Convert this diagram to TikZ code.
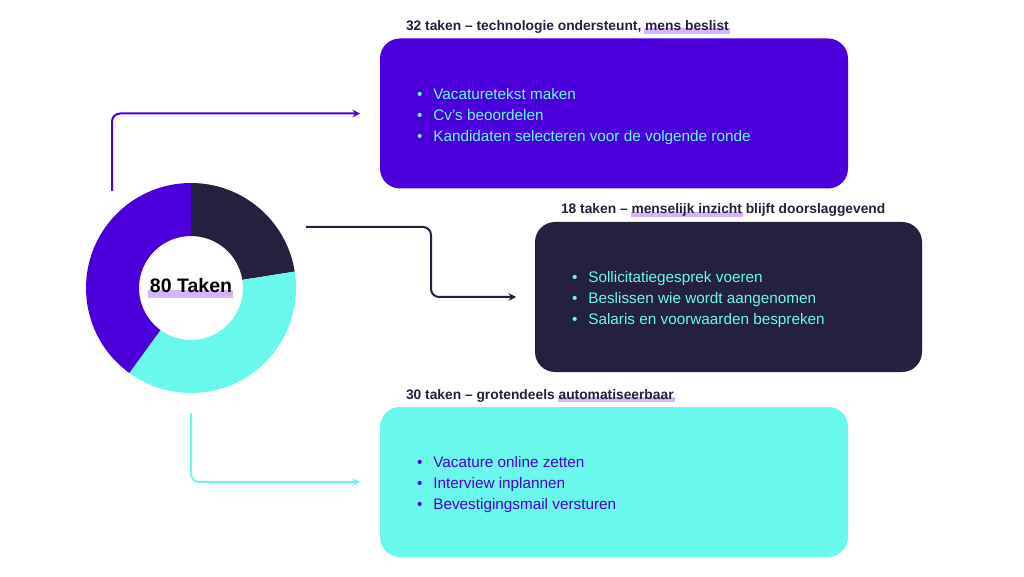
\documentclass[tikz,border=0pt]{standalone}
\usepackage{fontspec}
\setmainfont{Liberation Sans}
\usetikzlibrary{
  arrows.meta,
  calc,
  positioning,
  backgrounds,
}

\definecolor{brandviolet}{HTML}{4B00DB}
\definecolor{brandnight}{HTML}{24213E}
\definecolor{brandmint}{HTML}{6AF8EC}
\definecolor{brandlilac}{HTML}{D5B4F8}

\newcommand{\taskitem}{\textbullet\hspace{11pt}}

\tikzset{
  taskbox/.style={rounded corners=20pt, minimum height=150pt, inner sep=0pt, outer sep=0pt},
  boxtitle/.style={font=\bfseries\fontsize{13.8}{15}\selectfont, text=brandnight, inner sep=0pt, outer sep=0pt, text height=10pt, text depth=2.7pt},
  tasks/.style={font=\fontsize{15.3}{21}\selectfont, align=left, inner sep=0pt, outer sep=0pt},
  flow/.style={line width=2pt, rounded corners=8pt, -{Stealth[length=7.5pt, width=7.5pt]}},
  hlband/.style={fill=brandlilac},
}

\begin{document}
\begin{tikzpicture}[x=1pt, y=1pt]
\useasboundingbox (0,0) rectangle (1024,576);

\coordinate (donut) at (191,288);
\fill[brandnight] (donut) ++(90:105pt) arc[start angle=90, end angle=9, radius=105pt]
  -- ($(donut)+(9:52pt)$) arc[start angle=9, end angle=90, radius=52pt] -- cycle;
\fill[brandmint] (donut) ++(9:105pt) arc[start angle=9, end angle=-126, radius=105pt]
  -- ($(donut)+(-126:52pt)$) arc[start angle=-126, end angle=9, radius=52pt] -- cycle;
\fill[brandviolet] (donut) ++(-126:105pt) arc[start angle=-126, end angle=-270, radius=105pt]
  -- ($(donut)+(90:52pt)$) arc[start angle=90, end angle=234, radius=52pt] -- cycle;
\node[font=\bfseries\fontsize{19.5}{21}\selectfont, inner sep=0pt, text height=14pt, text depth=4pt] (total) at ($(donut)+(0,0.5)$) {80 Taken};

\node[taskbox, fill=brandviolet, minimum width=468pt] (tech) at (614,462.5) {};
\node[taskbox, fill=brandnight, minimum width=387pt] (judge) at (728.5,279) {};
\node[taskbox, fill=brandmint, minimum width=468pt] (auto) at (614,94) {};

\node[boxtitle, anchor=south west] (techa) at ($(tech.north west)+(26,5.3)$) {32 taken – technologie ondersteunt,};
\node[boxtitle, right=3.8pt of techa] (techb) {mens beslist};

\node[boxtitle, anchor=south west] (judgea) at ($(judge.north west)+(26,5.3)$) {18 taken –};
\node[boxtitle, right=3.8pt of judgea] (judgeb) {menselijk inzicht};
\node[boxtitle, right=3.8pt of judgeb] (judgec) {blijft doorslaggevend};

\node[boxtitle, anchor=south west] (autoa) at ($(auto.north west)+(26,5.3)$) {30 taken – grotendeels};
\node[boxtitle, right=3.8pt of autoa] (autob) {automatiseerbaar};

\begin{scope}[on background layer]
\fill[hlband] ($(total.south west)+(-2,-1.6)$) rectangle ($(total.south east)+(1,6.5)$);
\fill[hlband] ($(techb.south west)+(-1,-0.5)$) rectangle ($(techb.south east)+(1,5)$);
\fill[hlband] ($(judgeb.south west)+(-1,-0.5)$) rectangle ($(judgeb.south east)+(1,5)$);
\fill[hlband] ($(autob.south west)+(-1,-0.5)$) rectangle ($(autob.south east)+(1,5)$);
\end{scope}

\node[tasks, text=brandmint, right=37pt of tech.west, yshift=-3pt] (techlist)
  {\taskitem Vacaturetekst maken\\ \taskitem Cv’s beoordelen\\ \taskitem Kandidaten selecteren voor de volgende ronde};
\node[tasks, text=brandmint, right=37pt of judge.west, yshift=-3pt] (judgelist)
  {\taskitem Sollicitatiegesprek voeren\\ \taskitem Beslissen wie wordt aangenomen\\ \taskitem Salaris en voorwaarden bespreken};
\node[tasks, text=brandviolet, right=37pt of auto.west, yshift=-3pt] (autolist)
  {\taskitem Vacature online zetten\\ \taskitem Interview inplannen\\ \taskitem Bevestigingsmail versturen};

\coordinate (techfrom) at (112,385);
\coordinate (judgefrom) at (306,349);
\coordinate (autofrom) at (191,163);
\draw[flow, brandviolet] (techfrom) |- ([xshift=-20pt]tech.west);
\draw[flow, brandnight] (judgefrom) -- ++(125,0) |- ([xshift=-19pt]judge.west);
\draw[flow, brandmint] (autofrom) |- ([xshift=-20pt]auto.west);
\end{tikzpicture}
\end{document}
